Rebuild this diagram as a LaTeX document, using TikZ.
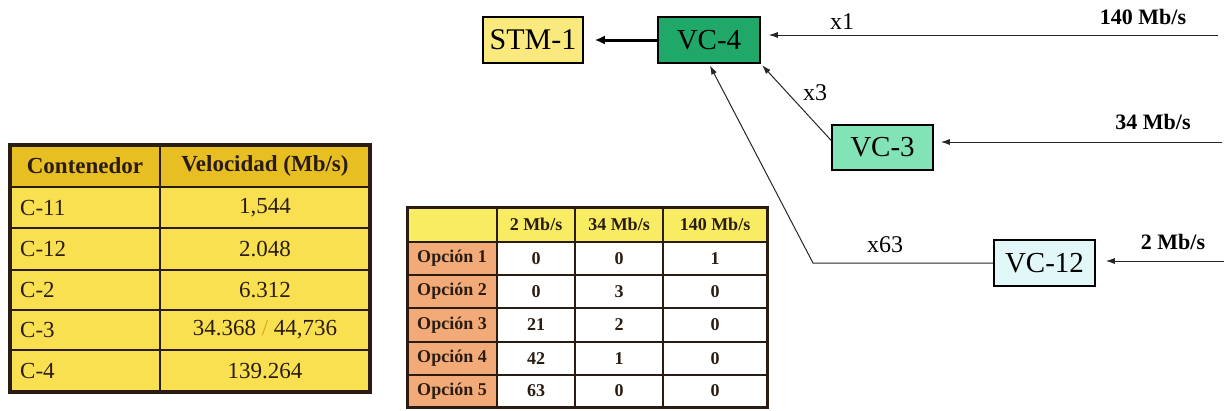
\documentclass[tikz,border=0pt]{standalone}
\usepackage{fontspec}
\setmainfont{Liberation Serif}
\usetikzlibrary{arrows.meta}
\definecolor{stmfill}{HTML}{FAE97C}
\definecolor{vcfourfill}{HTML}{1FA868}
\definecolor{vcthreefill}{HTML}{82E4B6}
\definecolor{vctwelvefill}{HTML}{E2F7F8}
\definecolor{tonehead}{HTML}{E8BF22}
\definecolor{tonebody}{HTML}{F8E050}
\definecolor{ttwohead}{HTML}{F8EC62}
\definecolor{ttworow}{HTML}{F2AA78}
\definecolor{inkdark}{HTML}{2A1C12}
\definecolor{slashcol}{HTML}{D8A020}
\begin{document}
\begin{tikzpicture}[x=1pt,y=-1pt,
  box/.style={draw=black, line width=1.5pt, minimum width=101pt, minimum height=46pt, inner sep=0pt, font=\fontsize{29}{34}\selectfont},
  conn/.style={draw=black!85, line width=1pt, -{Latex[length=9pt,width=6pt]}},
  lbl/.style={inner sep=0pt, font=\fontsize{24}{28}\selectfont},
  rate/.style={inner sep=0pt, font=\bfseries\fontsize{22}{26}\selectfont},
  tonetxt/.style={inner sep=0pt, text=inkdark, font=\fontsize{23}{27}\selectfont},
  toneheadtxt/.style={inner sep=0pt, text=inkdark, font=\bfseries\fontsize{23}{27}\selectfont},
  ttwotxt/.style={inner sep=0pt, text=inkdark, font=\bfseries\fontsize{18}{21}\selectfont},
  gridline/.style={draw=inkdark, line width=2pt}
]
\useasboundingbox (0,0) rectangle (1224,410);

% ---------- top diagram ----------
\node[box, fill=stmfill, minimum width=100pt, font=\fontsize{30}{34}\selectfont] (stm) at (533,40) {STM-1};
\node[box, fill=vcfourfill, minimum width=102pt] (vc4) at (709,40) {VC-4};
\node[box, fill=vcthreefill, minimum height=45pt] (vc3) at (882.5,147.5) {VC-3};
\node[box, fill=vctwelvefill] (vc12) at (1044.5,263) {VC-12};

\draw[line width=3pt, -{Latex[length=10pt,width=9pt]}, shorten >=11pt] (vc4.west) -- (stm.east);

\coordinate (in140) at (1218,35);
\coordinate (in34) at (1222,142);
\coordinate (in2) at (1224,261);
\draw[conn, shorten >=8pt] (in140) -- (in140 -| vc4.east);
\draw[conn, shorten >=7pt] (in34) -- (in34 -| vc3.east);
\draw[conn, shorten >=10pt] (in2) -- (in2 -| vc12.east);

\coordinate (vc3out) at ([yshift=7pt]vc3.west);
\draw[conn, shorten >=2pt] (vc3out) -- (vc4.south east);
\coordinate (bend) at (813,263);
\draw[conn, shorten >=2pt] (vc12.west) -- (bend) -- (vc4.south);

\node[lbl] (lx1) at (842,22) {x1};
\node[lbl] (lx3) at (815,93) {x3};
\node[lbl] (lx63) at (885,245) {x63};
\node[rate] (r140) at (1143,17) {140 Mb/s};
\node[rate] (r34) at (1153,122) {34 Mb/s};
\node[rate] (r2) at (1173,242) {2 Mb/s};

% ---------- table 1 ----------
\fill[tonehead] (10,145) rectangle (370,187);
\fill[tonebody] (10,187) rectangle (370,392);
\draw[gridline] (160,145) -- (160,392);
\draw[gridline, line width=2.5pt] (10,187) -- (370,187);
\foreach \yy in {228,270,310,350} \draw[gridline] (10,\yy) -- (370,\yy);
\draw[draw=inkdark, line width=4pt] (10,145) rectangle (370,392);

\node[toneheadtxt] (h1) at (85,166) {Contenedor};
\node[toneheadtxt] (h2) at (265,166) {Velocidad (Mb/s)};
\foreach \n/\yy/\c/\v in {a/207.5/C-11/{1,544}, b/249/C-12/2.048, c/290/C-2/6.312, e/371/C-4/139.264}{
  \node[tonetxt, anchor=west] (c\n) at (20,\yy) {\c};
  \node[tonetxt] (v\n) at (265,\yy) {\v};
}
\node[tonetxt, anchor=west] (cd) at (20,330) {C-3};
\node[tonetxt] (vd) at (265,330) {34.368 {\color{slashcol}/} 44,736};

% ---------- table 2 ----------
\fill[ttwohead] (407,207) rectangle (767,242);
\fill[ttworow] (407,242) rectangle (497,407);
\fill[white] (497,242) rectangle (767,407);
\foreach \xx in {497,575,663} \draw[gridline] (\xx,207) -- (\xx,407);
\foreach \yy in {242,275,308,342,375} \draw[gridline] (407,\yy) -- (767,\yy);
\draw[draw=inkdark, line width=3pt] (407,207) rectangle (767,407);

\node[ttwotxt] (k1) at (536,224.5) {2 Mb/s};
\node[ttwotxt] (k2) at (619,224.5) {34 Mb/s};
\node[ttwotxt] (k3) at (715,224.5) {140 Mb/s};
\foreach \i/\yy/\p/\q/\r in {1/258.5/0/0/1, 2/291.5/0/3/0, 3/325/21/2/0, 4/358.5/42/1/0, 5/391/63/0/0}{
  \node[ttwotxt] (o\i) at (452,\yy) {Opción \i};
  \node[ttwotxt] (p\i) at (536,\yy) {\p};
  \node[ttwotxt] (q\i) at (619,\yy) {\q};
  \node[ttwotxt] (r\i) at (715,\yy) {\r};
}
\end{tikzpicture}
\end{document}
